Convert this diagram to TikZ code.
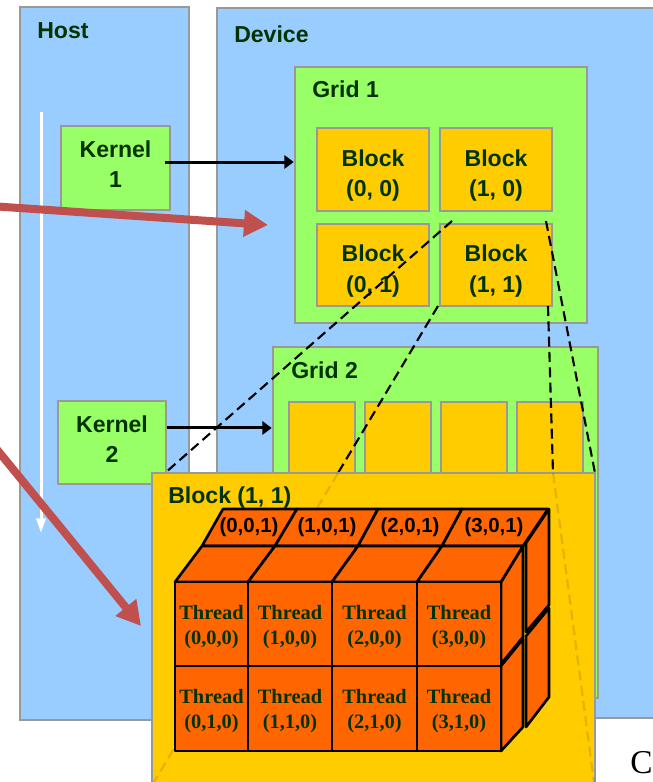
\documentclass[tikz,border=0pt]{standalone}
\usepackage{fontspec}
\setmainfont{Liberation Serif}
\setsansfont{Liberation Sans}
\usetikzlibrary{arrows.meta,fit}
\definecolor{hostblue}{HTML}{99CCFF}
\definecolor{gridgreen}{HTML}{99FF66}
\definecolor{blockyellow}{HTML}{FFCC00}
\definecolor{threadorange}{HTML}{FF6600}
\definecolor{bordergray}{HTML}{999999}
\definecolor{txtgreen}{HTML}{003300}
\definecolor{redarrow}{HTML}{C0504D}
\tikzset{
  gbox/.style={draw=bordergray, line width=2pt, inner sep=0pt, rectangle},
  hostbox/.style={gbox, fill=hostblue},
  greenbox/.style={gbox, fill=gridgreen},
  yellowbox/.style={gbox, fill=blockyellow},
  lbl/.style={font=\sffamily\bfseries\fontsize{17.3}{23}\selectfont, text=txtgreen, align=center, inner sep=0pt},
  ttl/.style={lbl, anchor=base west},
  thr/.style={font=\rmfamily\bfseries\fontsize{15.3}{18.75}\selectfont, text=txtgreen, align=center, inner sep=0pt},
  clbl/.style={font=\sffamily\bfseries\fontsize{15.3}{18}\selectfont, text=black, inner sep=0pt},
  cell/.style={fill=threadorange, draw=black, line width=2pt, line join=round},
  cellbox/.style={cell, inner sep=0pt, rectangle},
  kline/.style={draw=black, line width=2.25pt, -{Triangle[length=7pt,width=10pt]}},
  dline/.style={draw=black, line width=1.6pt, dash pattern=on 7.5pt off 4pt},
  faint/.style={dline, draw opacity=0.12},
  redarr/.style={draw=redarrow, line width=6pt, -{Triangle[length=18pt,width=19pt]}},
  warr/.style={draw=white, line width=2.25pt, -{Triangle[length=11pt,width=7pt]}}
}
\begin{document}
\begin{tikzpicture}[x=0.75pt,y=-0.75pt]
\useasboundingbox (0,0) rectangle (653,782);
\clip (0,0) rectangle (653,782);
\fill[white] (0,0) rectangle (653,782);

% Host and device
\node[hostbox, fit={(20,7) (189,720)}] (host) {};
\node[hostbox, fit={(217,8) (700,718)}] (device) {};
\node[ttl] (hostlbl) at (37,38) {Host};
\node[ttl] (devlbl) at (234,42) {Device};

% time arrow
\coordinate (wtop) at (41,112);
\coordinate (wbot) at (41,533);
\draw[warr] (wtop) -- (wbot);

% Kernels
\node[greenbox, fit={(61,126) (170,210)}] (k1) {};
\node[lbl, yshift=3pt] (k1l) at (k1) {Kernel\\1};
\node[greenbox, fit={(58,401) (166,484)}] (k2) {};
\node[lbl, yshift=2.6pt] (k2l) at (k2) {Kernel\\2};

% Grid 1
\node[greenbox, fit={(295,67) (587,323)}] (g1) {};
\node[ttl] (g1l) at (312,97) {Grid 1};
\node[yellowbox, fit={(317,128) (429,211)}] (b00) {};
\node[yellowbox, fit={(440,128) (552,211)}] (b10) {};
\node[yellowbox, fit={(317,224) (429,306)}] (b01) {};
\node[yellowbox, fit={(440,224) (552,306)}] (b11) {};
\node[lbl, yshift=-4.5pt] (b00l) at (b00) {Block\\(0, 0)};
\node[lbl, yshift=-4.5pt] (b10l) at (b10) {Block\\(1, 0)};
\node[lbl, yshift=-4.5pt] (b01l) at (b01) {Block\\(0, 1)};
\node[lbl, yshift=-4.5pt] (b11l) at (b11) {Block\\(1, 1)};

% Grid 2
\node[greenbox, fit={(273,347) (598,698)}] (g2) {};
\node[ttl] (g2l) at (291,378) {Grid 2};
\node[yellowbox, fit={(289,402) (355,500)}] (c0) {};
\node[yellowbox, fit={(365,402) (431,500)}] (c1) {};
\node[yellowbox, fit={(441,402) (507,500)}] (c2) {};
\node[yellowbox, fit={(517,402) (583,500)}] (c3) {};

% kernel launch arrows
\draw[kline] ([xshift=-4.5pt,yshift=4.5pt]k1.east) -- ([yshift=4.5pt]k1.east -| g1.west);
\draw[kline] ([yshift=10.9pt]k2.east) -- ([yshift=10.9pt]k2.east -| g2.west);

% zoom dashed lines
\coordinate (d1a) at (452,221); \coordinate (d1b) at (165,473);
\coordinate (d2a) at (438,306); \coordinate (d2b) at (338,473); \coordinate (d2c) at (154,782);
\coordinate (d3a) at (546,221); \coordinate (d3b) at (595,473);
\coordinate (d4a) at (548,306); \coordinate (d4b) at (553,473); \coordinate (d4c) at (594,782);
\draw[dline] (d1a) -- (d1b);
\draw[dline] (d2a) -- (d2b);
\draw[dline] (d3a) -- (d3b);
\draw[dline] (d4a) -- (d4b);

% Enlarged block
\node[yellowbox, fit={(152,473) (595,800)}] (big) {};
\node[ttl] (bigl) at (168,503) {Block (1, 1)};
\draw[faint] (d2b) -- (d2c);
\draw[faint] (d4b) -- (d4c);

% back layer right faces
\filldraw[cell] (526,543) -- (549,509) -- (549,605) -- (526,632) -- cycle;
\filldraw[cell] (526,636) -- (549,608) -- (549,697) -- (526,727) -- cycle;
% back layer top strip
\foreach \a/\b/\c/\d in {202/275/223/297, 275/358/297/378, 358/442/378/462, 442/523/462/548}
  \filldraw[cell] (\a,546) -- (\c,509) -- (\d,509) -- (\b,546) -- cycle;
\foreach \x [count=\i from 0] in {249,327,410,494}
  \node[clbl] (z\i) at (\x,527) {(\i,0,1)};
% front layer right faces
\filldraw[cell] (501,582) -- (523,546) -- (523,637) -- (501,664) -- cycle;
\filldraw[cell] (501,666) -- (523,639) -- (523,727) -- (501,751) -- cycle;
% front layer top strip
\foreach \a/\b/\c/\d in {175/248/202/275, 248/332/275/358, 332/417/358/442, 417/501/442/523}
  \filldraw[cell] (\a,582) -- (\c,546) -- (\d,546) -- (\b,582) -- cycle;
% front faces (threads)
\foreach \xa/\xb [count=\i from 0] in {175/248, 248/332, 332/417, 417/501} {
  \foreach \ya/\yb [count=\j from 0] in {582/666, 666/751} {
    \node[cellbox, fit={(\xa,\ya) (\xb,\yb)}] (t\i\j) {};
    \node[thr, yshift=-2.2pt] (tl\i\j) at (t\i\j) {Thread\\(\i,\j,0)};
  }
}

% red arrows
\coordinate (r1s) at (-10,206); \coordinate (r1e) at (268,225);
\coordinate (r2s) at (-10,441); \coordinate (r2e) at (141,626);
\draw[redarr] (r1s) -- (r1e);
\draw[redarr] (r2s) -- (r2e);

% caption letter at the lower right edge
\node[font=\rmfamily\fontsize{25}{30}\selectfont, anchor=base west, inner sep=0pt] (cap) at (630,773) {C};
\end{tikzpicture}
\end{document}
